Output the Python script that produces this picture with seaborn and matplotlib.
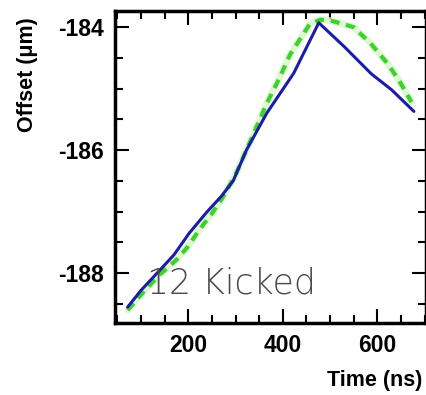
import numpy as np
import pandas as pd
import seaborn as sns
import matplotlib
matplotlib.use("Agg")
import matplotlib.pyplot as plt
from matplotlib.ticker import MultipleLocator

# Data
blue_time = [72, 100, 140, 170, 202, 240, 270, 295, 323, 366, 423, 476,
             530, 587, 630, 677]
blue_offset = [-188.55, -188.28, -187.95, -187.7, -187.35, -187.0, -186.75, -186.5,
               -186.0, -185.4, -184.75, -183.93, -184.32, -184.76, -185.02, -185.37]

green_time = [72, 100, 140, 174, 198, 223, 251, 272, 300, 323, 366, 394, 415, 457,
              480, 504, 549, 585, 621, 645, 666, 672]
green_offset = [-188.6, -188.35, -188.02, -187.79, -187.58, -187.3, -187.02, -186.78,
                -186.4, -186.0, -185.24, -184.81, -184.45, -183.95, -183.88, -183.9,
                -184.0, -184.26, -184.59, -184.86, -185.14, -185.22]

annotation = "12 Kicked"
x_label = "Time (ns)"
y_label = "Offset (\u03bcm)"

sns.set_theme(style="ticks")
plt.rcParams['font.family'] = ['Liberation Sans', 'DejaVu Sans']
plt.rcParams['axes.unicode_minus'] = False
plt.rcParams['xtick.top'] = True
plt.rcParams['ytick.right'] = True

fig = plt.figure(figsize=(4.27, 3.95), dpi=100)
ax = fig.add_axes([0.269, 0.182, 0.728, 0.79])

df_b = pd.DataFrame({"t": blue_time, "y": blue_offset})
df_g = pd.DataFrame({"t": green_time, "y": green_offset})

sns.lineplot(data=df_g, x="t", y="y", ax=ax, color="#d8f7c8", lw=5.0, alpha=0.8)
sns.lineplot(data=df_g, x="t", y="y", ax=ax, color="#3cd22c", lw=3.0,
             linestyle=(0, (2.2, 1.6)))
sns.lineplot(data=df_b, x="t", y="y", ax=ax, color="#1c1ca8", lw=2.2)

ax.set_xlim(45, 702)
ax.set_ylim(-188.81, -183.74)
ax.xaxis.set_major_locator(MultipleLocator(200))
ax.xaxis.set_minor_locator(MultipleLocator(50))
ax.yaxis.set_major_locator(MultipleLocator(2))
ax.yaxis.set_minor_locator(MultipleLocator(0.5))
ax.xaxis.set_ticks_position("both")
ax.yaxis.set_ticks_position("both")
ax.tick_params(which="both", direction="in", top=True, right=True, width=1.5,
               colors="black", labelcolor="black")
ax.tick_params(which="major", length=10, labelsize=16.5, pad=8)
ax.tick_params(which="minor", length=5.5)
for lab in ax.get_xticklabels() + ax.get_yticklabels():
    lab.set_fontweight("bold")
for s in ax.spines.values():
    s.set_linewidth(2.5)
    s.set_color("black")

ax.set_xlabel("")
ax.set_ylabel("")
fig.text(0.99, 0.037, x_label, ha="right", va="center", fontsize=15.5,
         fontweight="bold", color="black")
fig.text(0.065, 0.81, y_label, ha="center", va="center", rotation=90,
         fontsize=15.5, fontweight="bold", color="black")

ax.text(112, -188.16, annotation, ha="left", va="center", fontsize=25,
        color="#4a4a4a", family=["DejaVu Sans"], fontweight="light")

fig.savefig("out.png", dpi=100)
